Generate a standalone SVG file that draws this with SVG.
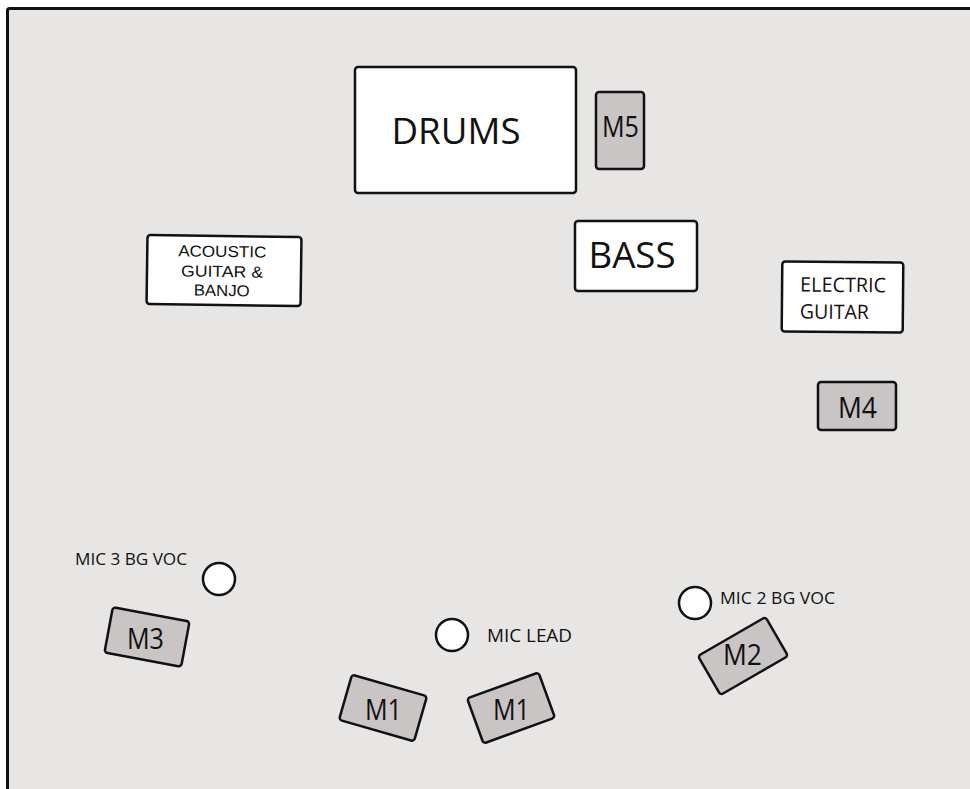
<svg xmlns="http://www.w3.org/2000/svg" width="970" height="789" viewBox="0 0 970 789">
<style>
.box{fill:#ffffff;stroke:#111;stroke-width:2.5}
.mon{fill:#c9c5c5;stroke:#111;stroke-width:2.5}
.mic{fill:#ffffff;stroke:#111;stroke-width:2.5}
text{font-family:"Open Sans","Noto Sans",sans-serif;fill:#111}
.c{text-anchor:middle}
.tight{font-family:"Liberation Sans",Arial,sans-serif}
</style>
<rect x="0" y="0" width="970" height="789" fill="#ffffff"/>
<rect id="stage" x="7.5" y="8.5" width="1000" height="820" fill="#e7e6e4" stroke="#111" stroke-width="3" rx="2"/>
<g id="drums">
<rect class="box" x="355" y="67" width="221" height="126" rx="3"/>
<text class="c" x="456" y="144" font-size="37" textLength="129" lengthAdjust="spacingAndGlyphs">DRUMS</text>
</g>
<g id="m5">
<rect class="mon" x="596" y="92" width="48" height="77" rx="3"/>
<text class="c" x="620.5" y="137" font-size="29" textLength="37" lengthAdjust="spacingAndGlyphs">M5</text>
</g>
<g id="acoustic" transform="rotate(0.8 224 271)">
<rect class="box" x="147" y="236" width="154" height="69" rx="3"/>
<text class="c tight" x="222" y="257" font-size="16" textLength="88" lengthAdjust="spacingAndGlyphs">ACOUSTIC</text>
<text class="c tight" x="222" y="277" font-size="16" textLength="82" lengthAdjust="spacingAndGlyphs">GUITAR &amp;</text>
<text class="c tight" x="222" y="296" font-size="16" textLength="56" lengthAdjust="spacingAndGlyphs">BANJO</text>
</g>
<g id="bass">
<rect class="box" x="575" y="221" width="122" height="70" rx="3"/>
<text class="c" x="632" y="268" font-size="37" textLength="87" lengthAdjust="spacingAndGlyphs">BASS</text>
</g>
<g id="electric" transform="rotate(0.5 843 297)">
<rect class="box" x="782" y="262" width="121" height="70" rx="3"/>
<text x="800" y="292" font-size="20" textLength="86" lengthAdjust="spacingAndGlyphs">ELECTRIC</text>
<text x="800" y="319" font-size="20" textLength="69" lengthAdjust="spacingAndGlyphs">GUITAR</text>
</g>
<g id="m4">
<rect class="mon" x="818" y="382" width="78" height="48" rx="3"/>
<text class="c" x="857.5" y="418" font-size="29" textLength="39" lengthAdjust="spacingAndGlyphs">M4</text>
</g>
<g id="mic3">
<circle class="mic" cx="219" cy="579" r="16"/>
<text x="75" y="565" font-size="16" textLength="112" lengthAdjust="spacingAndGlyphs">MIC 3 BG VOC</text>
</g>
<g id="m3">
<rect class="mon" x="-39" y="-23" width="78" height="46" rx="3" transform="translate(147 637) rotate(10.5)"/>
<text class="c" x="145.5" y="649" font-size="29" textLength="37" lengthAdjust="spacingAndGlyphs">M3</text>
</g>
<g id="miclead">
<circle class="mic" cx="452" cy="635" r="16"/>
<text x="487" y="642" font-size="19" textLength="85" lengthAdjust="spacingAndGlyphs">MIC LEAD</text>
</g>
<g id="m1a">
<rect class="mon" x="-39" y="-23.5" width="78" height="47" rx="3" transform="translate(383 708) rotate(16)"/>
<text class="c" x="383.5" y="720" font-size="29" textLength="37" lengthAdjust="spacingAndGlyphs">M1</text>
</g>
<g id="m1b">
<rect class="mon" x="-38" y="-24" width="76" height="48" rx="3" transform="translate(511 708) rotate(-20)"/>
<text class="c" x="511.5" y="720" font-size="29" textLength="37" lengthAdjust="spacingAndGlyphs">M1</text>
</g>
<g id="mic2">
<circle class="mic" cx="695" cy="603" r="16"/>
<text x="720" y="604" font-size="16" textLength="115" lengthAdjust="spacingAndGlyphs">MIC 2 BG VOC</text>
</g>
<g id="m2">
<rect class="mon" x="-39" y="-22.5" width="78" height="45" rx="3" transform="translate(743 656) rotate(-30)"/>
<text class="c" x="742.5" y="665" font-size="29" textLength="39" lengthAdjust="spacingAndGlyphs">M2</text>
</g>
<g id="connectors"></g>
</svg>
